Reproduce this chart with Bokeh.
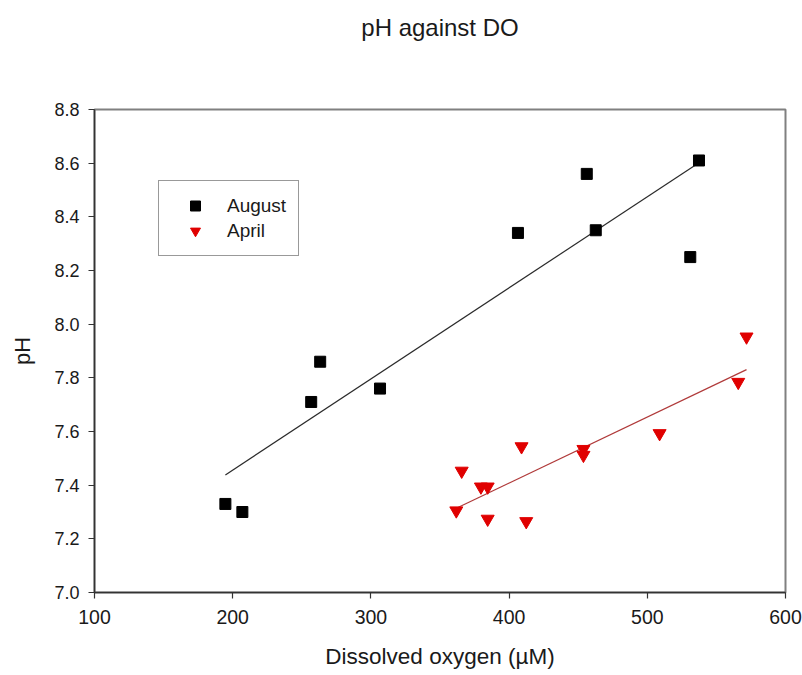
import numpy as np
from bokeh.plotting import figure
from bokeh.models import FixedTicker, Legend, LegendItem, Range1d, NumeralTickFormatter, Title
from bokeh.embed import file_html
from bokeh.resources import INLINE

# ---- data ----
aug_do = [194.7, 207.0, 256.8, 263.3, 306.6, 406.4, 456.2, 462.7, 537.4, 531.1]
aug_ph = [7.33, 7.30, 7.71, 7.86, 7.76, 8.34, 8.56, 8.35, 8.61, 8.25]
apr_do = [571.8, 565.8, 508.9, 409.0, 453.8, 453.8, 365.7, 379.6, 384.5, 361.8, 384.5, 412.4]
apr_ph = [7.953, 7.784, 7.593, 7.544, 7.534, 7.512, 7.453, 7.394, 7.394, 7.305, 7.274, 7.265]
x_ticks = [100, 200, 300, 400, 500, 600]
y_ticks = [7.0, 7.2, 7.4, 7.6, 7.8, 8.0, 8.2, 8.4, 8.6, 8.8]
title_text = "pH against DO"

FONT = "Liberation Sans"
TXT = "#1a1a1a"

p = figure(width=802, height=675, output_backend="svg", toolbar_location=None,
           x_range=Range1d(100, 600), y_range=Range1d(7.0, 8.8),
           min_border_left=94, min_border_right=17, min_border_top=109, min_border_bottom=83)
p.background_fill_color = "white"
p.border_fill_color = "white"
p.xgrid.visible = False
p.ygrid.visible = False
p.outline_line_color = "#808080"
p.outline_line_width = 2

# spacer between frame and title, then the title itself (stacked further up)
p.add_layout(Title(text=" ", text_font_size="20px", standoff=40), "above")
p.add_layout(Title(text=title_text, align="center", text_font=FONT,
                   text_font_size="24px", text_font_style="normal",
                   text_color=TXT, standoff=10), "above")

for ax in (p.xaxis[0], p.yaxis[0]):
    ax.axis_line_color = "#333333"
    ax.axis_line_width = 1.5
    ax.major_tick_line_color = "#333333"
    ax.major_tick_line_width = 1.2
    ax.major_tick_out = 6
    ax.major_tick_in = 0
    ax.minor_tick_line_color = None
    ax.major_label_text_font = FONT
    ax.major_label_text_color = TXT
    ax.axis_label_text_font = FONT
    ax.axis_label_text_font_style = "normal"
    ax.axis_label_text_color = TXT

p.xaxis.ticker = FixedTicker(ticks=x_ticks)
p.yaxis.ticker = FixedTicker(ticks=y_ticks)
p.yaxis.formatter = NumeralTickFormatter(format="0.0")
p.xaxis.major_label_text_font_size = "19.5px"
p.yaxis.major_label_text_font_size = "18px"
p.xaxis.major_label_standoff = 11
p.yaxis.major_label_standoff = 9
p.xaxis.axis_label = "Dissolved oxygen (\u00b5M)"
p.yaxis.axis_label = "pH"
p.xaxis.axis_label_text_font_size = "22.5px"
p.yaxis.axis_label_text_font_size = "22px"
p.xaxis.axis_label_standoff = 17
p.yaxis.axis_label_standoff = 16

# regression lines
ka, ba = np.polyfit(aug_do, aug_ph, 1)
xa = [min(aug_do), max(aug_do)]
p.line(xa, [ka * v + ba for v in xa], line_color="#2a2a2a", line_width=1.2)
kp, bp = np.polyfit(apr_do, apr_ph, 1)
xp = [min(apr_do), max(apr_do)]
p.line(xp, [kp * v + bp for v in xp], line_color="#b03a3a", line_width=1.2)

r_aug = p.scatter(aug_do, aug_ph, marker="square", size=11, fill_color="black", line_color="black")
r_apr = p.scatter(apr_do, apr_ph, marker="inverted_triangle", size=13, fill_color="#e00000", line_color="#e00000")

legend = Legend(items=[LegendItem(label="August", renderers=[r_aug]),
                       LegendItem(label="April", renderers=[r_apr])],
                location=(64, 336))
legend.border_line_color = "#333333"
legend.border_line_width = 1.5
legend.padding = 12
legend.spacing = 0
legend.glyph_width = 48
legend.glyph_height = 25
legend.label_height = 25
legend.label_standoff = 8
legend.label_text_font = FONT
legend.label_text_font_size = "19px"
legend.label_text_color = TXT
legend.background_fill_alpha = 1
p.add_layout(legend)

open("out.html", "w").write(file_html(p, INLINE))
